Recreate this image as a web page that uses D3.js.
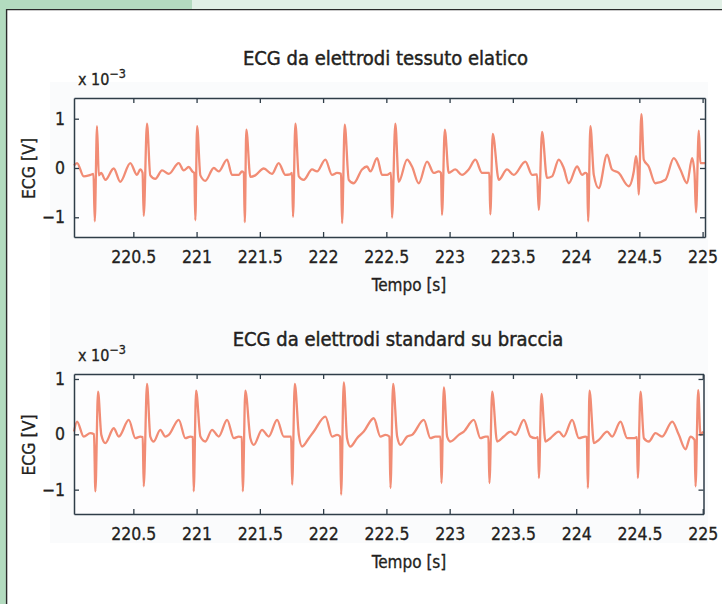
<!DOCTYPE html>
<html>
<head>
<meta charset="utf-8">
<script src="https://cdn.jsdelivr.net/npm/d3@7"></script>
<style>
  html, body { margin: 0; padding: 0; background: #ffffff; }
  svg { display: block; }
  text { font-family: "DejaVu Sans Condensed", "DejaVu Sans", sans-serif; font-stretch: condensed; fill: #231f20;
         stroke: #231f20; stroke-width: 0.3px; }
</style>
</head>
<body>
<svg id="chart" width="722" height="604"></svg>
<script>
// ---------- data ----------
const xTicks = [220.5, 221, 221.5, 222, 222.5, 223, 223.5, 224, 224.5, 225];
const yTicks = [-1, 0, 1];
const titles = ["ECG da elettrodi tessuto elatico", "ECG da elettrodi standard su braccia"];
const xLabel = "Tempo [s]";
const yLabel = "ECG [V]";

// [time (s), ECG (x 10^-3 V)] — electrode fabric trace
const fabricSeries = [
  [220.031,0.05],[220.055,0.10],[220.108,-0.17],[220.160,-0.14],[220.185,-0.12],[220.195,-1.08],[220.213,0.85],
  [220.227,-0.15],[220.245,-0.10],[220.279,-0.24],[220.345,-0.01],[220.397,-0.28],[220.476,0.10],[220.529,-0.14],
  [220.555,-0.03],[220.573,-0.10],[220.582,-0.97],[220.608,0.90],[220.634,-0.15],[220.674,-0.22],[220.727,-0.05],
  [220.780,-0.12],[220.859,0.10],[220.898,-0.05],[220.938,0.02],[220.970,-0.08],[220.982,-0.10],[220.990,-1.06],
  [221.004,0.85],[221.030,-0.15],[221.069,-0.26],[221.136,0.00],[221.175,-0.07],[221.241,0.17],[221.280,-0.14],
  [221.333,-0.14],[221.359,-0.07],[221.373,-0.10],[221.381,-1.10],[221.393,0.78],[221.425,-0.18],[221.464,-0.15],
  [221.531,-0.01],[221.596,-0.12],[221.649,0.10],[221.702,-0.14],[221.739,-0.13],[221.755,-0.10],[221.762,-0.99],
  [221.781,0.90],[221.808,-0.17],[221.847,-0.24],[221.913,-0.03],[221.952,-0.07],[222.018,0.17],[222.071,-0.14],
  [222.110,-0.10],[222.142,-0.12],[222.150,-1.12],[222.171,0.88],[222.203,-0.24],[222.242,-0.31],[222.308,-0.03],
  [222.347,0.03],[222.374,-0.07],[222.427,0.20],[222.466,-0.14],[222.506,-0.14],[222.537,-0.10],[222.545,-1.01],
  [222.571,0.90],[222.598,-0.28],[222.664,0.17],[222.703,0.03],[222.756,-0.31],[222.822,0.13],[222.875,-0.10],
  [222.914,-0.07],[222.932,-0.10],[222.940,-0.95],[222.962,0.78],[222.993,-0.10],[223.045,-0.03],[223.098,-0.14],
  [223.151,-0.03],[223.204,0.17],[223.257,-0.10],[223.296,-0.10],[223.314,-0.10],[223.322,-0.94],[223.341,0.69],
  [223.389,-0.24],[223.454,-0.03],[223.507,-0.14],[223.599,0.13],[223.652,-0.14],[223.691,-0.13],[223.705,-0.85],
  [223.731,0.73],[223.770,-0.20],[223.810,-0.17],[223.863,0.17],[223.902,0.00],[223.942,-0.31],[224.008,0.03],
  [224.047,-0.14],[224.073,-0.10],[224.087,-0.12],[224.095,-1.08],[224.113,0.85],[224.140,-0.14],[224.179,-0.41],
  [224.245,0.27],[224.284,-0.03],[224.337,-0.10],[224.416,-0.37],[224.456,-0.07],[224.474,0.24],[224.486,0.00],
  [224.495,-0.54],[224.516,1.09],[224.535,0.17],[224.574,0.03],[224.626,-0.31],[224.706,-0.24],[224.772,0.20],
  [224.824,-0.03],[224.877,-0.31],[224.917,0.20],[224.936,-0.10],[224.948,-0.90],[224.970,0.76],[224.982,0.10],
  [225.019,0.10]
];

// [time (s), ECG (x 10^-3 V)] — standard arm electrodes trace
const standardSeries = [
  [220.031,0.05],[220.055,0.23],[220.108,-0.04],[220.160,0.02],[220.189,0.00],[220.200,-1.03],[220.221,0.77],
  [220.247,-0.01],[220.279,-0.16],[220.345,0.11],[220.385,-0.04],[220.464,0.26],[220.516,-0.07],[220.555,-0.04],
  [220.574,-0.05],[220.582,-0.94],[220.608,0.91],[220.634,-0.04],[220.661,-0.13],[220.713,0.08],[220.753,-0.04],
  [220.780,-0.01],[220.859,0.26],[220.911,-0.07],[220.951,-0.04],[220.970,-0.05],[220.977,-1.03],[220.996,0.79],
  [221.030,-0.04],[221.069,-0.13],[221.122,0.08],[221.175,-0.04],[221.241,0.26],[221.294,-0.07],[221.333,-0.04],
  [221.357,-0.05],[221.365,-1.03],[221.385,0.79],[221.425,-0.07],[221.452,-0.19],[221.517,0.08],[221.570,-0.04],
  [221.636,0.26],[221.689,-0.04],[221.723,-0.04],[221.747,-0.04],[221.755,-0.91],[221.776,0.91],[221.808,-0.01],
  [221.834,-0.22],[221.887,-0.07],[221.926,0.05],[222.018,0.32],[222.071,-0.04],[222.110,-0.01],[222.134,-0.04],
  [222.142,-1.09],[222.163,0.94],[222.189,-0.07],[222.215,-0.22],[222.268,-0.07],[222.321,0.05],[222.400,0.29],
  [222.453,-0.04],[222.492,-0.01],[222.524,-0.04],[222.532,-0.97],[222.553,0.91],[222.585,-0.04],[222.611,-0.19],
  [222.664,-0.04],[222.703,-0.01],[222.796,0.26],[222.848,-0.07],[222.887,-0.04],[222.927,-0.04],[222.935,-0.88],
  [222.954,0.85],[222.980,-0.04],[223.006,-0.13],[223.072,-0.01],[223.112,0.05],[223.191,0.26],[223.243,-0.07],
  [223.283,-0.04],[223.306,-0.04],[223.314,-0.88],[223.336,0.77],[223.375,-0.13],[223.428,-0.04],[223.480,0.05],
  [223.520,-0.01],[223.586,0.26],[223.638,-0.04],[223.678,-0.07],[223.697,-0.05],[223.705,-0.79],[223.725,0.73],
  [223.757,-0.13],[223.796,-0.07],[223.863,0.05],[223.902,-0.04],[223.968,0.26],[224.021,-0.07],[224.073,-0.04],
  [224.084,-0.05],[224.092,-0.97],[224.105,0.79],[224.140,-0.16],[224.179,-0.10],[224.245,0.05],[224.284,-0.04],
  [224.350,0.23],[224.403,-0.07],[224.456,-0.07],[224.480,-0.05],[224.487,-0.79],[224.508,0.77],[224.535,-0.07],
  [224.574,-0.13],[224.626,0.02],[224.679,-0.04],[224.759,0.23],[224.811,-0.01],[224.864,-0.27],[224.903,-0.04],
  [224.935,-0.10],[224.943,-0.94],[224.964,0.80],[224.982,-0.01],[225.003,0.05]
];

const topXDomain = [220.031, 225.019];
const topYDomain = [-1.40, 1.42];
const botXDomain = [220.031, 225.006];
const botYDomain = [-1.44, 1.09];

// ---------- layout ----------
const FONT = '"DejaVu Sans Condensed", "DejaVu Sans", sans-serif';
const svg = d3.select("#chart");
const AXIS = "#2f3d48";
const TRACE = "#f07a5e";

// page decorations
svg.append("rect").attr("x", 0).attr("y", 0).attr("width", 722).attr("height", 604).attr("fill", "#ffffff");
svg.append("rect").attr("x", 0).attr("y", 0).attr("width", 192).attr("height", 9).attr("fill", "#b3dbbf");
svg.append("rect").attr("x", 192).attr("y", 0).attr("width", 530).attr("height", 9).attr("fill", "#e1f0e6");
svg.append("rect").attr("x", 0).attr("y", 0).attr("width", 6).attr("height", 604).attr("fill", "#b3dbbf");
svg.append("line").attr("x1", 6).attr("x2", 722).attr("y1", 9.6).attr("y2", 9.6).attr("stroke", "#2a2a2a").attr("stroke-width", 1.4);
svg.append("line").attr("x1", 6.6).attr("x2", 6.6).attr("y1", 9).attr("y2", 604).attr("stroke", "#2a2a2a").attr("stroke-width", 1.4);
// faint figure background
svg.append("rect").attr("x", 50).attr("y", 82).attr("width", 658).attr("height", 461).attr("fill", "#fafbfc");

const defs = svg.append("defs");
defs.append("filter").attr("id", "soft").attr("x", "-5%").attr("y", "-5%").attr("width", "110%").attr("height", "110%")
  .append("feGaussianBlur").attr("stdDeviation", 0.6);

function panel(cfg) {
  const x = d3.scaleLinear().domain(cfg.xDomain).range([cfg.left, cfg.right]);
  const y = d3.scaleLinear().domain(cfg.yDomain).range([cfg.bottom, cfg.top]);
  const g = svg.append("g");

  g.append("rect").attr("x", cfg.left).attr("y", cfg.top)
    .attr("width", cfg.right - cfg.left).attr("height", cfg.bottom - cfg.top).attr("fill", "#fdfdfe");

  const line = d3.line().x(d => x(d[0])).y(d => y(d[1])).curve(d3.curveMonotoneX);
  g.append("path").datum(cfg.series).attr("d", line)
    .attr("fill", "none").attr("stroke", TRACE).attr("stroke-width", 2.3)
    .attr("stroke-linejoin", "round").attr("opacity", 0.86).attr("filter", "url(#soft)");

  const fmt = d => (d < 0 ? "\u2212" + Math.abs(d) : String(d));

  const ax = [
    g.append("g").attr("transform", `translate(0,${cfg.bottom})`)
      .call(d3.axisBottom(x).tickValues(xTicks).tickSizeInner(-5).tickSizeOuter(0).tickPadding(14).tickFormat(d => String(d))),
    g.append("g").attr("transform", `translate(0,${cfg.top})`)
      .call(d3.axisTop(x).tickValues(xTicks).tickSizeInner(-5).tickSizeOuter(0).tickFormat("")),
    g.append("g").attr("transform", `translate(${cfg.left},0)`)
      .call(d3.axisLeft(y).tickValues(yTicks).tickSizeInner(-5).tickSizeOuter(0).tickPadding(9).tickFormat(fmt)),
    g.append("g").attr("transform", `translate(${cfg.right},0)`)
      .call(d3.axisRight(y).tickValues(yTicks).tickSizeInner(-5).tickSizeOuter(0).tickFormat(""))
  ];
  ax.forEach(a => {
    a.select(".domain").attr("stroke", AXIS).attr("stroke-width", 1.5);
    a.selectAll(".tick line").attr("stroke", AXIS).attr("stroke-width", 1.3);
    a.selectAll("text").attr("fill", "#231f20").attr("stroke", "#231f20").attr("stroke-width", 0.3)
      .style("font-size", "17.5px").style("font-family", FONT);
  });

  // title
  g.append("text").attr("x", cfg.titleX).attr("y", cfg.titleY).attr("text-anchor", "middle")
    .style("font-size", "20px").style("stroke-width", "0.45px").text(cfg.title);
  // exponent
  const ex = g.append("text").attr("x", 78).attr("y", cfg.top - 13).style("font-size", "16px");
  ex.append("tspan").text("x 10");
  ex.append("tspan").attr("dy", -7).style("font-size", "12.5px").text("\u22123");
  // y label
  g.append("text").attr("transform", `translate(35,${(cfg.top + cfg.bottom) / 2 + 1}) rotate(-90)`)
    .attr("text-anchor", "middle").style("font-size", "17.5px").text(yLabel);
  // x label
  g.append("text").attr("x", 409).attr("y", cfg.bottom + 54).attr("text-anchor", "middle")
    .style("font-size", "17px").text(xLabel);
}

panel({ left: 74, right: 705, top: 98, bottom: 237, xDomain: topXDomain, yDomain: topYDomain,
        series: fabricSeries, title: titles[0], titleX: 385.5, titleY: 65 });
panel({ left: 74, right: 703.5, top: 374, bottom: 514, xDomain: botXDomain, yDomain: botYDomain,
        series: standardSeries, title: titles[1], titleX: 398, titleY: 346 });
</script>
</body>
</html>
